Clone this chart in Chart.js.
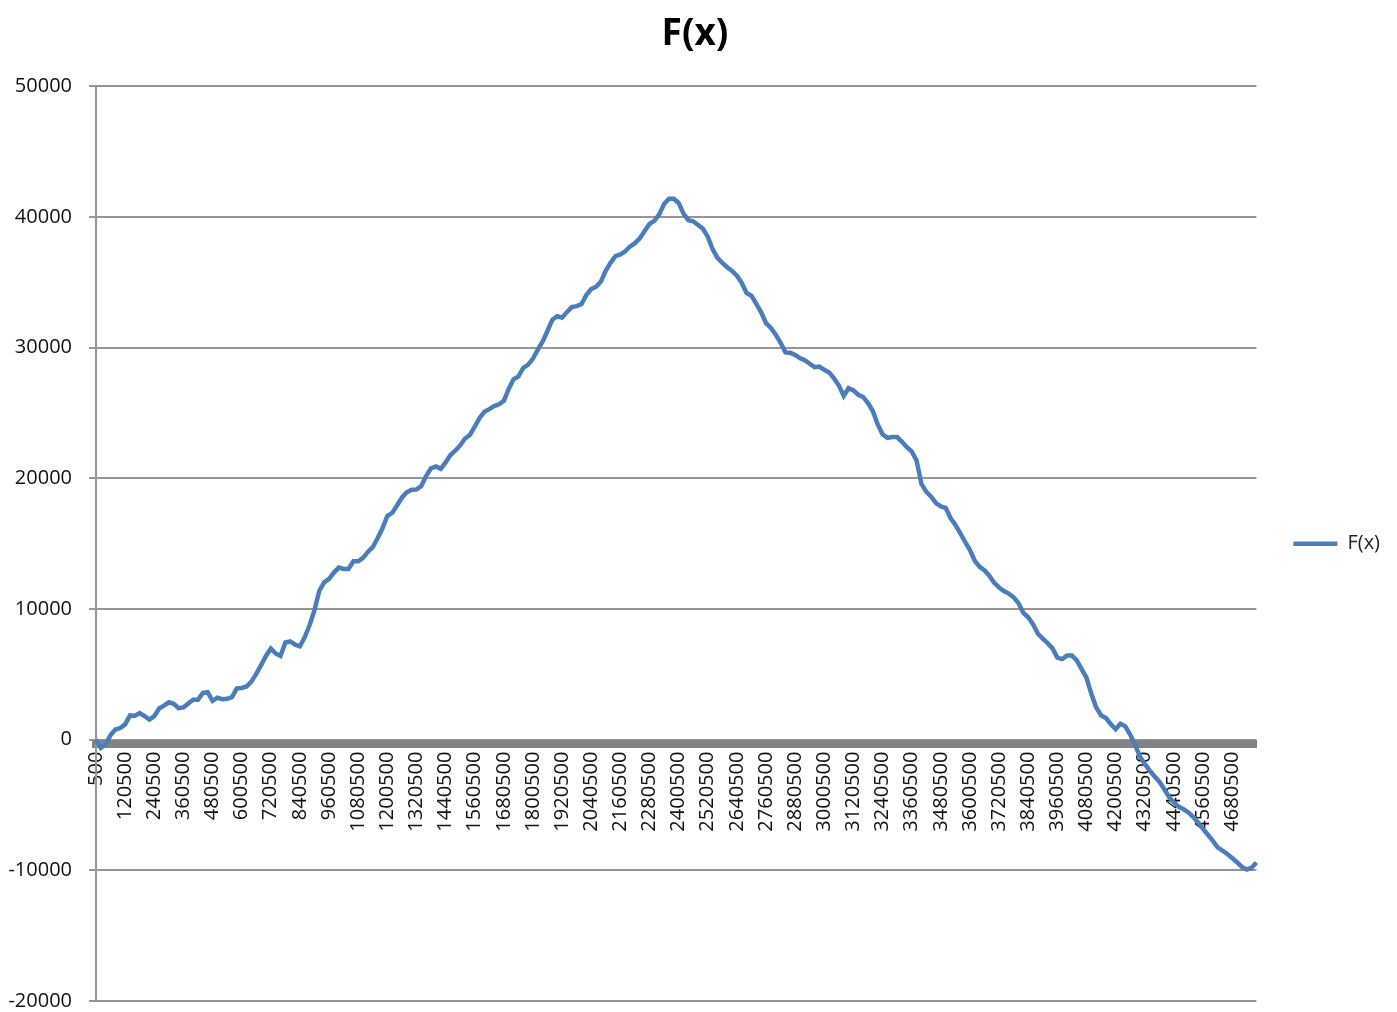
<!DOCTYPE html>
<html>
<head>
<meta charset="utf-8">
<title>F(x)</title>
<script src="https://cdn.jsdelivr.net/npm/chart.js@4.4.1/dist/chart.umd.min.js"></script>
<style>
  body { margin: 0; background: #ffffff; }
  canvas { display: block; }
</style>
</head>
<body>
<canvas id="chart" width="1397" height="1012"></canvas>
<script>
// x values start at 500 and go up by 20000, a label is shown every 6th one
const xStart = 500
const xStep = 20000
const labelEvery = 6

// F(x), one value per category
const fx = [
    0, -630, -340, 350, 780, 890, 1170, 1860, 1840, 2030,
    1800, 1540, 1800, 2390, 2600, 2860, 2750, 2410, 2470, 2770,
    3060, 3060, 3580, 3630, 2970, 3220, 3100, 3130, 3260, 3930,
    3960, 4070, 4440, 5030, 5710, 6410, 6970, 6600, 6410, 7440,
    7520, 7270, 7150, 7850, 8780, 9920, 11400, 12040, 12310, 12790,
    13170, 13070, 13070, 13650, 13650, 13920, 14370, 14730, 15410, 16180,
    17120, 17360, 17930, 18520, 18940, 19130, 19140, 19420, 20190, 20770,
    20910, 20730, 21220, 21790, 22120, 22520, 23050, 23320, 23950, 24630,
    25100, 25300, 25530, 25670, 25940, 26840, 27580, 27810, 28450, 28710,
    29170, 29850, 30480, 31300, 32150, 32410, 32300, 32740, 33110, 33180,
    33350, 34040, 34490, 34670, 35060, 35900, 36520, 37010, 37140, 37380,
    37750, 38000, 38370, 38940, 39470, 39710, 40200, 41000, 41400, 41400,
    41080, 40260, 39760, 39680, 39390, 39100, 38500, 37540, 36870, 36500,
    36160, 35880, 35510, 34970, 34180, 33980, 33350, 32710, 31880, 31510,
    31000, 30380, 29640, 29610, 29450, 29200, 29050, 28770, 28510, 28560,
    28310, 28110, 27660, 27100, 26310, 26900, 26730, 26400, 26230, 25760,
    25150, 24130, 23380, 23100, 23170, 23160, 22800, 22390, 22070, 21380,
    19580, 18980, 18600, 18110, 17860, 17740, 16960, 16440, 15810, 15140,
    14520, 13690, 13220, 12960, 12540, 12000, 11650, 11380, 11180, 10900,
    10450, 9710, 9370, 8830, 8110, 7730, 7390, 6990, 6280, 6170,
    6440, 6440, 6070, 5400, 4740, 3510, 2470, 1870, 1660, 1190,
    800, 1220, 1020, 390, -380, -1290, -1860, -2350, -2800, -3210,
    -3780, -4380, -4800, -5140, -5330, -5570, -5920, -6360, -6830, -7270,
    -7730, -8240, -8490, -8750, -9060, -9380, -9740, -9940, -9800, -9400
]

const xValues = []
for (let i = 0; i < fx.length; i++) {
    xValues.push(String(xStart + i * xStep))
}

const yMin = -20000
const yMax = 50000
const yStep = 10000

const lineBlue = "#4a7ebb"
const gridGray = "#969696"
const fontName = "'Open Sans', 'DejaVu Sans', sans-serif"

new Chart(document.getElementById("chart"), {
    type: "line",
    data: {
        labels: xValues,
        datasets: [{
            label: "F(x)",
            data: fx,
            borderColor: lineBlue,
            backgroundColor: lineBlue,
            borderWidth: 4.5,
            pointRadius: 0,
            tension: 0,
            fill: false
        }]
    },
    options: {
        responsive: false,
        animation: false,
        layout: {
            padding: { left: 0, right: 7, top: 0, bottom: 11 }
        },
        plugins: {
            tooltip: { enabled: false },
            title: {
                display: true,
                text: "F(x)",
                color: "#000000",
                font: { size: 37, weight: "bold", family: fontName },
                padding: { top: 12, bottom: 30 }
            },
            legend: {
                position: "right",
                fullSize: false,
                labels: {
                    boxWidth: 44,
                    boxHeight: 0,
                    padding: 37,
                    color: "#222222",
                    font: { size: 20, family: fontName }
                }
            }
        },
        scales: {
            x: {
                type: "category",
                position: { y: -300 },
                grid: { display: false, drawTicks: false },
                border: { display: true, color: "#828282", width: 8 },
                afterFit: function (scale) {
                    scale.height = 0
                    scale.paddingLeft = 0
                    scale.paddingRight = 0
                },
                ticks: {
                    autoSkip: false,
                    minRotation: 90,
                    maxRotation: 90,
                    padding: 8,
                    color: "#111111",
                    font: { size: 20, family: fontName },
                    callback: function (value, index) {
                        return index % labelEvery === 0 ? this.getLabelForValue(value) : ""
                    }
                }
            },
            y: {
                min: yMin,
                max: yMax,
                grid: {
                    color: gridGray,
                    lineWidth: 2,
                    tickLength: 7
                },
                border: { color: gridGray, width: 2 },
                afterFit: function (scale) {
                    scale.width = 96
                    scale.paddingTop = 0
                    scale.paddingBottom = 0
                },
                ticks: {
                    stepSize: yStep,
                    padding: 17,
                    color: "#111111",
                    font: { size: 20, family: fontName },
                    callback: function (value) {
                        return String(value)
                    }
                }
            }
        }
    }
})
</script>
</body>
</html>
